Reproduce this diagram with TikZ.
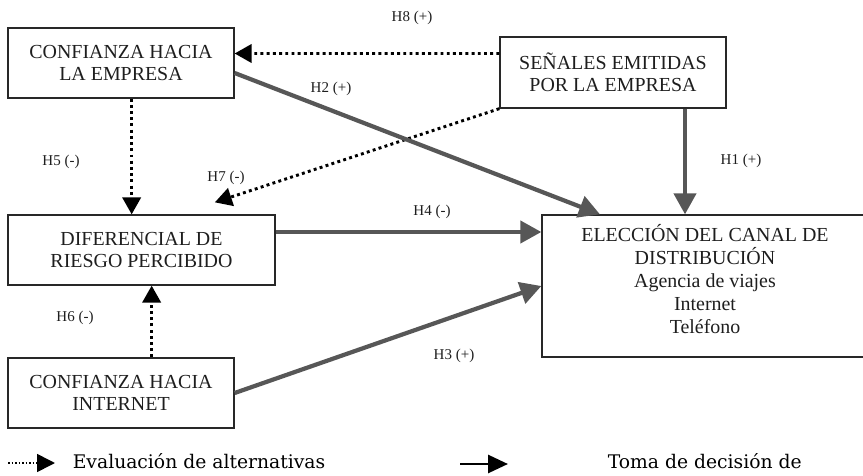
\documentclass[tikz,border=0pt]{standalone}
\usepackage{fontspec}
\setmainfont{Liberation Serif}
\newfontfamily\legendfont{DejaVu Serif}
\usepackage{xcolor}
\usepackage{tikz}
\usetikzlibrary{arrows.meta,positioning}

\definecolor{linegray}{RGB}{87,87,87}
\definecolor{boxline}{RGB}{40,40,40}
\definecolor{textdark}{RGB}{30,30,30}

\begin{document}
\begin{tikzpicture}[
        box/.style={rectangle, draw=boxline, line width=1.1pt, minimum width=6.78cm, minimum height=2.1cm, inner sep=0pt, align=center, text=textdark, font=\fontsize{17}{19}\selectfont},
        hyp/.style={text=textdark, font=\fontsize{12.8}{14}\selectfont},
        legtext/.style={anchor=base west, text=black, font=\legendfont\fontsize{16}{18}\selectfont},
        evalarrow/.style={line width=2.5pt, dash pattern=on 2.5pt off 2.8pt, -{Triangle[length=0.51cm, width=0.55cm]}},
        decarrow/.style={draw=linegray, line width=3.6pt, -{Triangle[length=0.63cm, width=0.66cm, fill=linegray]}}
    ]
        \useasboundingbox (0,0) rectangle (25.89,14.25);

        % Constructs
        \node[box] (confemp) at (3.63,12.36) {CONFIANZA HACIA\\LA EMPRESA};
        \node[box, minimum height=2.13cm] (senales) at (18.39,12.075) {SEÑALES EMITIDAS\\POR LA EMPRESA};
        \node[box, minimum width=8.01cm] (riesgo) at (4.245,6.75) {DIFERENCIAL DE\\RIESGO PERCIBIDO};
        \node[box, minimum width=9.78cm, minimum height=4.26cm] (eleccion) at (21.15,5.67) {};
        \node[align=center, text=textdark, font=\fontsize{17}{19.6}\selectfont] (elecciontext) at ([yshift=0.2cm]eleccion.center) {ELECCIÓN DEL CANAL DE\\DISTRIBUCIÓN\\Agencia de viajes\\Internet\\Teléfono};
        \node[box] (confint) at (3.63,2.46) {CONFIANZA HACIA\\INTERNET};

        % Evaluation of alternatives
        \draw[evalarrow] ([yshift=0.57cm]senales.west) -- ([yshift=0.285cm]confemp.east);
        \draw[evalarrow] (senales.south west) -- ([xshift=2.2cm, yshift=0.36cm]riesgo.north);
        \draw[evalarrow] ([xshift=0.32cm]confemp.south) -- ([xshift=0.32cm]confemp.south |- riesgo.north);
        \draw[evalarrow] ([xshift=0.92cm]confint.north) -- ([xshift=0.92cm]confint.north |- riesgo.south);

        % Decision
        \draw[decarrow] ([xshift=2.16cm]senales.south) -- ([xshift=2.16cm]senales.south |- eleccion.north);
        \draw[decarrow] ([yshift=-0.3cm]confemp.east) -- ([xshift=-3.15cm]eleccion.north);
        \draw[decarrow] ([yshift=0.54cm]riesgo.east) -- ([yshift=0.54cm]riesgo.east -| eleccion.west);
        \draw[decarrow] (confint.east) -- (eleccion.west);

        % Hypotheses
        \node[hyp] (h8) at (12.36,13.71) {H8 (+)};
        \node[hyp] (h2) at (9.93,11.58) {H2 (+)};
        \node[hyp] (h5) at (1.83,9.39) {H5 (-)};
        \node[hyp] (h7) at (6.78,8.91) {H7 (-)};
        \node[hyp] (h4) at (12.96,7.89) {H4 (-)};
        \node[hyp] (h1) at (22.23,9.42) {H1 (+)};
        \node[hyp] (h6) at (2.25,4.71) {H6 (-)};
        \node[hyp] (h3) at (13.62,3.57) {H3 (+)};

        % Legend
        \coordinate (evalstart) at (0.24,0.36);
        \coordinate (evalend) at (1.65,0.36);
        \draw[line width=1.4pt, dash pattern=on 1.4pt off 1.6pt, -{Triangle[length=0.54cm, width=0.54cm]}] (evalstart) -- (evalend);
        \node[legtext] (evaltext) at (2.06,0.2) {Evaluación de alternativas};
        \coordinate (decstart) at (13.8,0.33);
        \coordinate (decend) at (15.24,0.33);
        \draw[line width=2.4pt, -{Triangle[length=0.6cm, width=0.54cm]}] (decstart) -- (decend);
        \node[legtext] (dectext) at (18.11,0.2) {Toma de decisión de};
    \end{tikzpicture}
\end{document}
